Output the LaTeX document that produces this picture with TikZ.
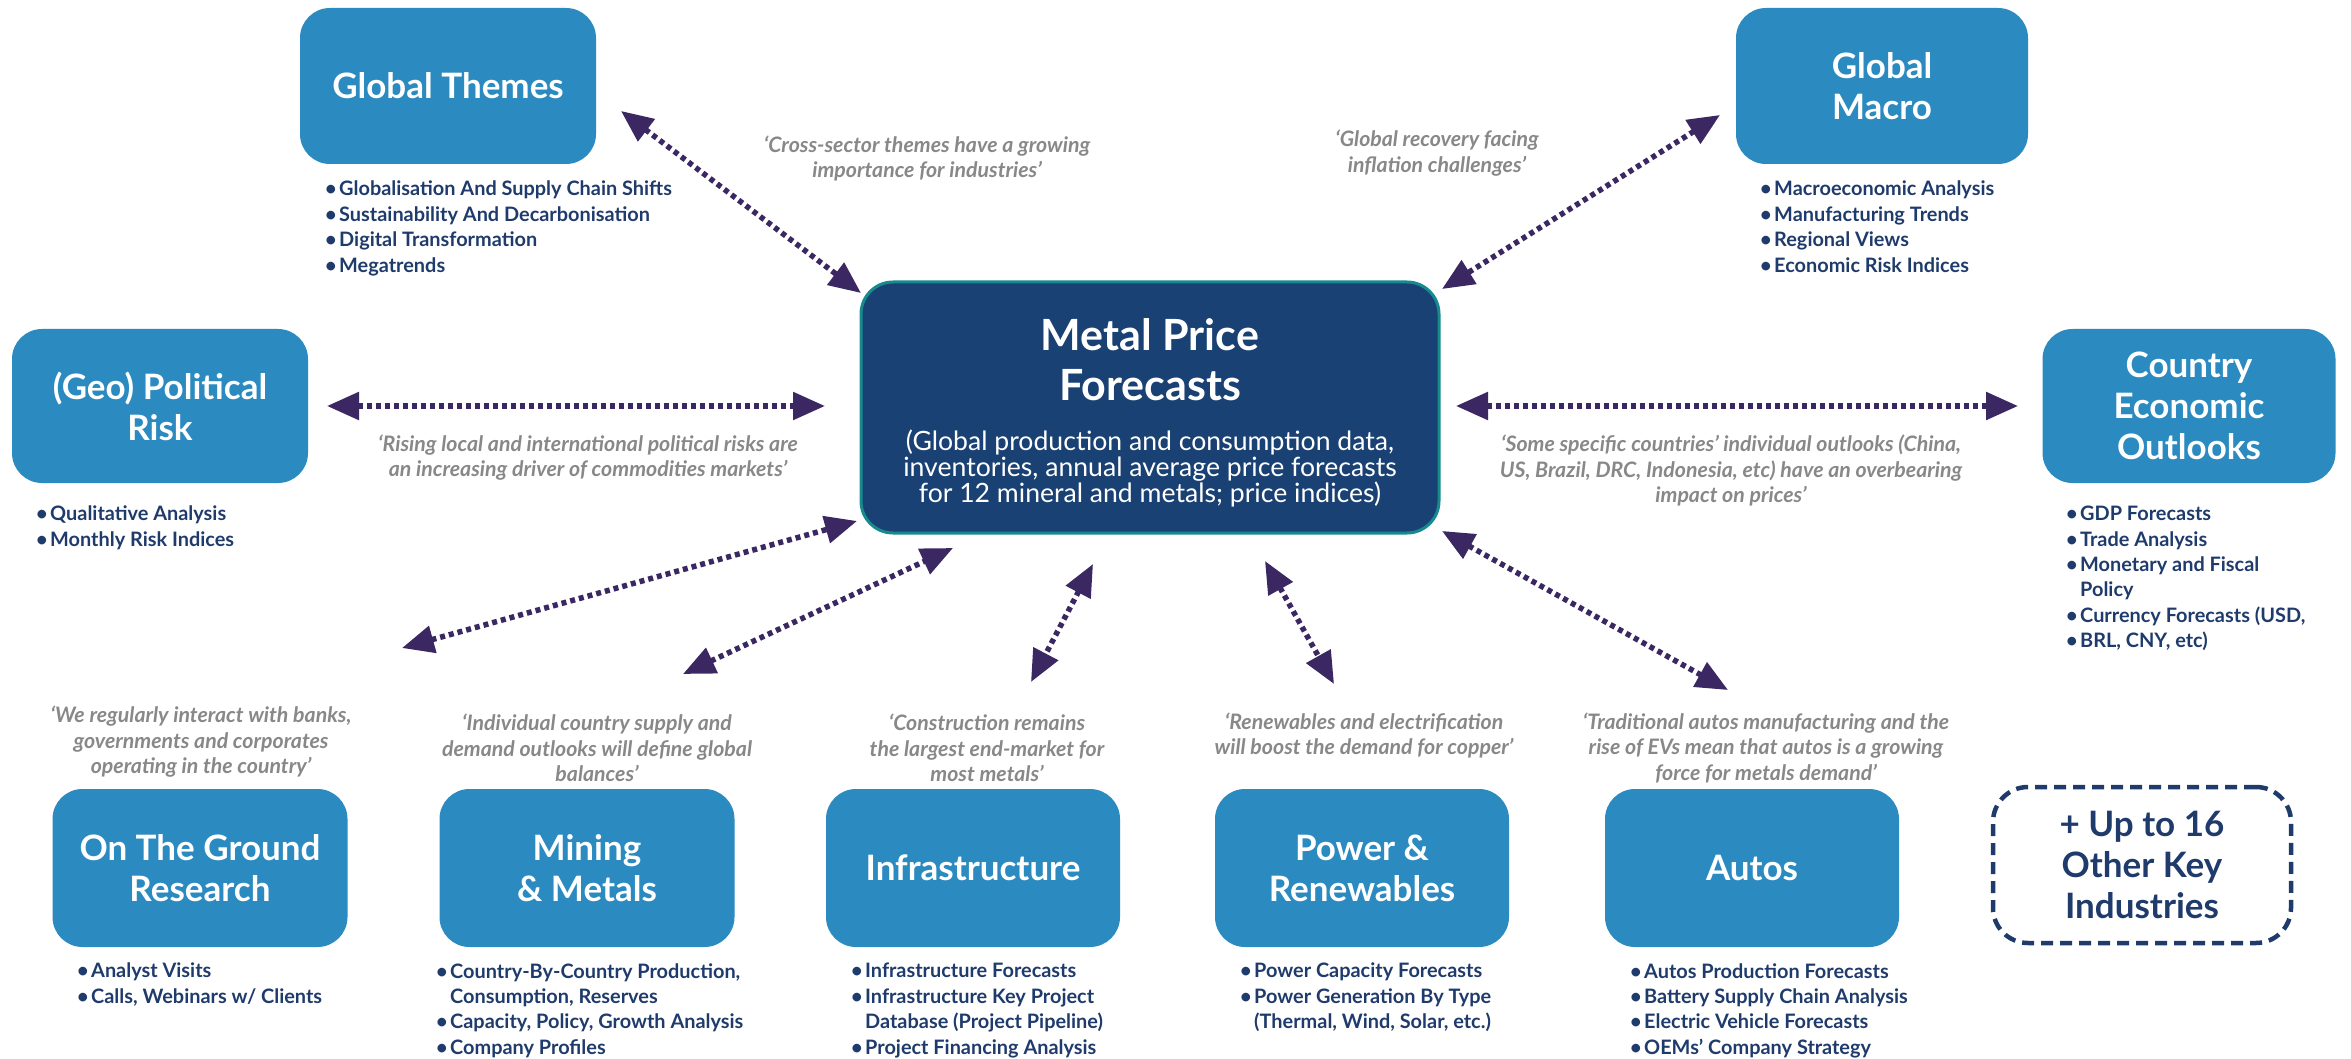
\documentclass[tikz,border=0pt]{standalone}
\usepackage{fontspec}
\setmainfont{Lato}
\usetikzlibrary{arrows.meta}
\definecolor{boxblue}{HTML}{2B8AC0}
\definecolor{navyfill}{HTML}{1A4173}
\definecolor{tealborder}{HTML}{178A8E}
\definecolor{arrowc}{HTML}{3B2862}
\definecolor{bullettext}{HTML}{1F3B6C}
\definecolor{quotegray}{HTML}{888888}
\newcommand\bu{\makebox[14pt][l]{•}}
\newcommand\bc{\makebox[14pt][l]{}}
\begin{document}
\begin{tikzpicture}[x=1pt,y=-1pt,
  topicbox/.style={fill=boxblue, rounded corners=30pt, text=white, align=center,
    font=\fontsize{35}{41}\selectfont\bfseries, inner sep=0pt},
  morebox/.style={draw=bullettext, line width=4.5pt, dash pattern=on 12pt off 7pt,
    rounded corners=35pt, text=bullettext, align=center,
    font=\fontsize{35}{41}\selectfont\bfseries, inner sep=0pt},
  bulletlist/.style={anchor=north west, inner sep=0pt, align=left, text=bullettext,
    font=\fontsize{19.9}{25.4}\selectfont\bfseries},
  quotetext/.style={align=center, text=quotegray, inner sep=0pt,
    font=\fontsize{21.3}{25.5}\selectfont\bfseries\itshape},
  biarrow/.style={line width=5.5pt, draw=arrowc, dash pattern=on 5pt off 4pt,
    {Triangle[length=32pt,width=27pt]}-{Triangle[length=32pt,width=27pt]}}]
\useasboundingbox (0,0) rectangle (2351,1059);

% central box
\node[draw=tealborder, line width=3pt, fill=navyfill, rounded corners=32pt,
  minimum width=578pt, minimum height=251pt] (mpf) at (1150,407.5) {};
\node[text=white, font=\fontsize{43}{50}\selectfont\bfseries, align=center, inner sep=0pt]
  (mpft) at (1150,360) {Metal Price\\Forecasts};
\node[text=white, font=\fontsize{26.6}{26}\selectfont, align=center, inner sep=0pt]
  (mpfs) at (1150,468) {(Global production and consumption data,\\inventories, annual average price forecasts\\for 12 mineral and metals; price indices)};

% topic boxes
\node[topicbox, minimum width=296pt, minimum height=156pt] (gt) at (448,86) {Global Themes};
\node[topicbox, minimum width=292pt, minimum height=156pt] (gm) at (1882,86) {Global\\Macro};
\node[topicbox, minimum width=296pt, minimum height=154pt] (geo) at (160,406) {(Geo) Political\\Risk};
\node[topicbox, minimum width=293pt, minimum height=154pt] (ceo) at (2189,406) {Country\\Economic\\Outlooks};
\node[topicbox, minimum width=295pt, minimum height=158pt] (otg) at (200,868) {On The Ground\\Research};
\node[topicbox, minimum width=295pt, minimum height=158pt] (mm) at (587,868) {Mining\\\& Metals};
\node[topicbox, minimum width=294pt, minimum height=158pt] (inf) at (973,868) {Infrastructure};
\node[topicbox, minimum width=294pt, minimum height=158pt] (pr) at (1362,868) {Power \&\\Renewables};
\node[topicbox, minimum width=294pt, minimum height=158pt] (au) at (1752,868) {Autos};
\node[morebox, minimum width=298pt, minimum height=156pt] (more) at (2142,865) {+ Up to 16\\Other Key\\Industries};

% bullet lists
\node[bulletlist] (gtb) at (325,181) {\bu Globalisation And Supply Chain Shifts\\\bu Sustainability And Decarbonisation\\\bu Digital Transformation\\\bu Megatrends};
\node[bulletlist] (gmb) at (1760,181) {\bu Macroeconomic Analysis\\\bu Manufacturing Trends\\\bu Regional Views\\\bu Economic Risk Indices};
\node[bulletlist] (geob) at (36,506) {\bu Qualitative Analysis\\\bu Monthly Risk Indices};
\node[bulletlist] (ceob) at (2066,506) {\bu GDP Forecasts\\\bu Trade Analysis\\\bu Monetary and Fiscal\\\bc Policy\\\bu Currency Forecasts (USD,\\\bu BRL, CNY, etc)};
\node[bulletlist] (otgb) at (77,963) {\bu Analyst Visits\\\bu Calls, Webinars w/ Clients};
\node[bulletlist] (mmb) at (436,963) {\bu Country-By-Country Production,\\\bc Consumption, Reserves\\\bu Capacity, Policy, Growth Analysis\\\bu Company Profiles};
\node[bulletlist] (infb) at (851,963) {\bu Infrastructure Forecasts\\\bu Infrastructure Key Project\\\bc Database (Project Pipeline)\\\bu Project Financing Analysis};
\node[bulletlist] (prb) at (1240,963) {\bu Power Capacity Forecasts\\\bu Power Generation By Type\\\bc (Thermal, Wind, Solar, etc.)};
\node[bulletlist] (aub) at (1630,963) {\bu Autos Production Forecasts\\\bu Battery Supply Chain Analysis\\\bu Electric Vehicle Forecasts\\\bu OEMs' Company Strategy};

% quotes
\node[quotetext] (q1) at (927,158.5) {‘Cross-sector themes have a growing\\importance for industries’};
\node[quotetext] (q2) at (1437,153) {‘Global recovery facing\\inflation challenges’};
\node[quotetext] (q3) at (588,457.5) {‘Rising local and international political risks are\\an increasing driver of commodities markets’};
\node[quotetext] (q4) at (1731,470.5) {‘Some specific countries’ individual outlooks (China,\\US, Brazil, DRC, Indonesia, etc) have an overbearing\\impact on prices’};
\node[quotetext] (q5) at (201,742) {‘We regularly interact with banks,\\governments and corporates\\operating in the country’};
\node[quotetext] (q6) at (597,748) {‘Individual country supply and\\demand outlooks will define global\\balances’};
\node[quotetext] (q7) at (987,748) {‘Construction remains\\the largest end-market for\\most metals’};
\node[quotetext] (q8) at (1364,735.5) {‘Renewables and electrification\\will boost the demand for copper’};
\node[quotetext] (q9) at (1766,748) {‘Traditional autos manufacturing and the\\rise of EVs mean that autos is a growing\\force for metals demand’};

% arrow end points
\coordinate (a1s) at (621,111);  \coordinate (a1e) at (861,293);
\coordinate (a2s) at (1720,115); \coordinate (a2e) at (1442,289);
\coordinate (a3s) at (327,406);  \coordinate (a3e) at (825,406);
\coordinate (a4s) at (1456,406); \coordinate (a4e) at (2018,406);
\coordinate (a5s) at (402,648);  \coordinate (a5e) at (857,521);
\coordinate (a6s) at (683,674);  \coordinate (a6e) at (953,548);
\coordinate (a7s) at (1093,564); \coordinate (a7e) at (1031,682);
\coordinate (a8s) at (1265,561); \coordinate (a8e) at (1334,684);
\coordinate (a9s) at (1442,531); \coordinate (a9e) at (1728,690);

\draw[biarrow] (a1s) -- (a1e);
\draw[biarrow] (a2s) -- (a2e);
\draw[biarrow] (a3s) -- (a3e);
\draw[biarrow] (a4s) -- (a4e);
\draw[biarrow] (a5s) -- (a5e);
\draw[biarrow] (a6s) -- (a6e);
\draw[biarrow] (a7s) -- (a7e);
\draw[biarrow] (a8s) -- (a8e);
\draw[biarrow] (a9s) -- (a9e);
\end{tikzpicture}
\end{document}
